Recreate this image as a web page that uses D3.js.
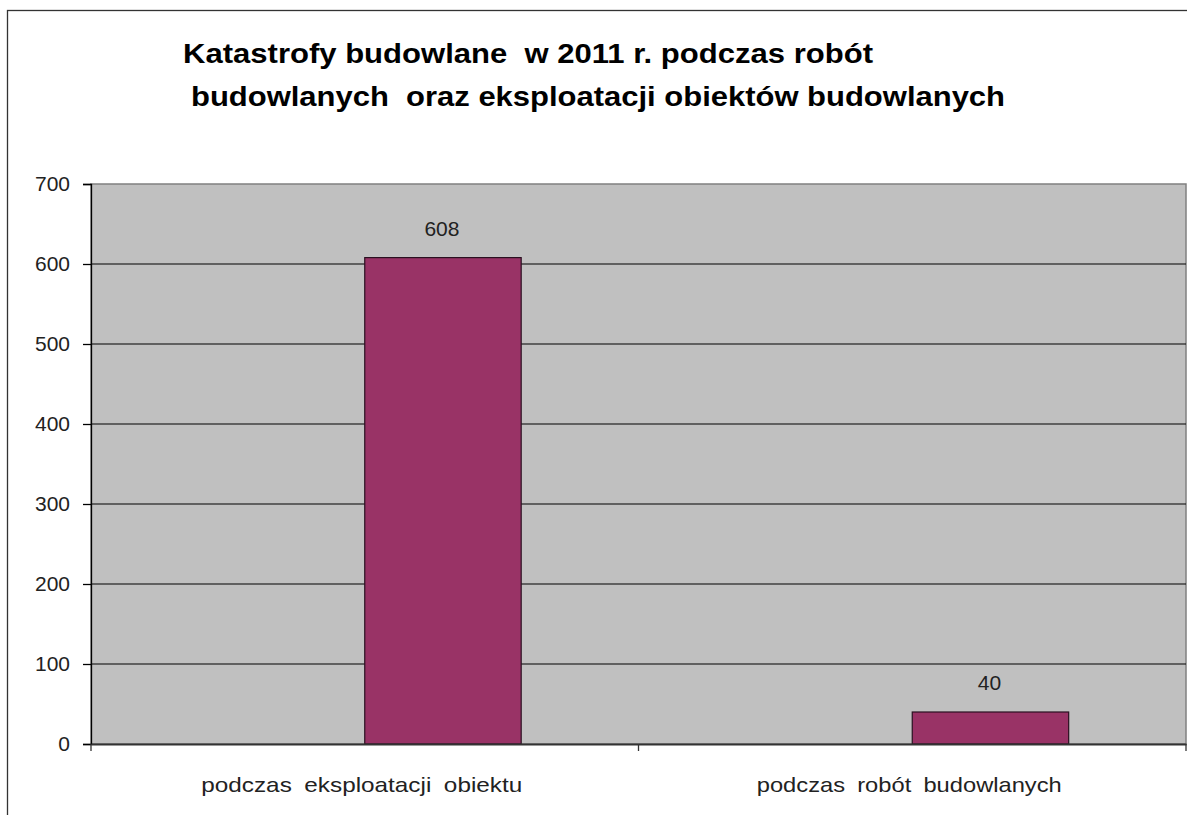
<!DOCTYPE html>
<html>
<head>
<meta charset="utf-8">
<script src="https://cdn.jsdelivr.net/npm/d3@7"></script>
<style>
  body { margin: 0; background: #fff; }
  text { font-family: "Liberation Sans", Arial, sans-serif; }
</style>
</head>
<body>
<svg width="1187" height="815"></svg>
<script>
// chart data
const categories = ["podczas eksploatacji obiektu", "podczas robót budowlanych"];
const values = [608, 40];
const yTicks = [0, 100, 200, 300, 400, 500, 600, 700];
const titleLines = ["Katastrofy budowlane  w 2011 r. podczas robót", "budowlanych  oraz eksploatacji obiektów budowlanych"];

const svg = d3.select("svg");
const margin = {top: 184, right: 1, bottom: 70, left: 91};
const W = 1187, H = 815;

// outer chart border
svg.append("rect")
   .attr("x", 7.5).attr("y", 10.5)
   .attr("width", 1200).attr("height", 900)
   .attr("fill", "#fff")
   .attr("stroke", "#333").attr("stroke-width", 1.3);

// title (the original is a little stretched horizontally)
const titleX = [183, 191], titleLen = [690, 814];
svg.selectAll(".title")
   .data(titleLines)
   .enter()
   .append("text")
   .attr("class", "title")
   .attr("x", (d, i) => titleX[i])
   .attr("y", (d, i) => 63 + i * 43)
   .attr("font-size", 27)
   .attr("font-weight", "bold")
   .attr("fill", "#000")
   .attr("textLength", (d, i) => titleLen[i])
   .attr("lengthAdjust", "spacingAndGlyphs")
   .style("white-space", "pre")
   .text(d => d);

const x0 = d3.scaleBand()
             .domain(categories)
             .range([margin.left, W - margin.right])
             .padding(0);

// two series slots per category (first slot empty), 150% gap
const x1 = d3.scaleBand()
             .domain(["empty", "value"])
             .range([0, x0.bandwidth()])
             .paddingInner(0)
             .paddingOuter(0.75);

const y = d3.scaleLinear()
            .domain([0, 700])
            .range([H - margin.bottom - 1, margin.top]);

// plot area
svg.append("rect")
   .attr("x", margin.left).attr("y", y(700))
   .attr("width", W - margin.right - margin.left)
   .attr("height", y(0) - y(700))
   .attr("fill", "#c0c0c0")
   .attr("stroke", "#808080").attr("stroke-width", 1.5);

// gridlines
svg.selectAll(".grid")
   .data(yTicks.filter(t => t > 0 && t < 700))
   .enter()
   .append("line")
   .attr("x1", margin.left).attr("x2", W - margin.right)
   .attr("y1", d => y(d)).attr("y2", d => y(d))
   .attr("stroke", "#000").attr("stroke-width", 1.2);

// bars
svg.selectAll(".bar")
   .data(values)
   .enter()
   .append("rect")
   .attr("class", "bar")
   .attr("x", (d, i) => x0(categories[i]) + x1("value"))
   .attr("y", d => y(d))
   .attr("width", x1.bandwidth())
   .attr("height", d => y(0) - y(d))
   .attr("fill", "#993366")
   .attr("stroke", "#2a1020").attr("stroke-width", 1.2);

// value labels
svg.selectAll(".vlabel")
   .data(values)
   .enter()
   .append("text")
   .attr("x", (d, i) => x0(categories[i]) + x1("value") + x1.bandwidth() / 2 - 1)
   .attr("y", d => y(d) - 22)
   .attr("text-anchor", "middle")
   .attr("font-size", 21)
   .attr("fill", "#222")
   .text(d => d);

// y axis
const yAxis = d3.axisLeft(y)
                .tickValues(yTicks)
                .tickSize(8)
                .tickPadding(13);
const gy = svg.append("g")
              .attr("transform", `translate(${margin.left},0)`)
              .call(yAxis);
gy.select(".domain").attr("stroke", "#000").attr("stroke-width", 1.3);
gy.selectAll(".tick line").attr("stroke", "#000").attr("stroke-width", 1.3);
gy.selectAll(".tick text")
  .attr("font-size", 21)
  .attr("font-family", "Liberation Sans, Arial, sans-serif")
  .attr("fill", "#222");

// x axis
const labelLen = [321, 305];
const xAxis = d3.axisBottom(x0).tickSize(0).tickPadding(26);
const gx = svg.append("g")
              .attr("transform", `translate(0,${y(0)})`)
              .call(xAxis);
gx.select(".domain").attr("stroke", "#333").attr("stroke-width", 2);
gx.selectAll(".tick text")
  .attr("font-size", 21)
  .attr("font-family", "Liberation Sans, Arial, sans-serif")
  .attr("fill", "#222")
  .attr("dy", "1.05em")
  .style("word-spacing", "5px")
  .attr("textLength", (d, i) => labelLen[i])
  .attr("lengthAdjust", "spacingAndGlyphs");
gx.selectAll(".tick").attr("transform", d => `translate(${x0(d) + x0.bandwidth() / 2 - 3},0)`);

// category boundary ticks
const bounds = categories.map(c => x0(c)).concat([x0(categories[1]) + x0.bandwidth()]);
gx.selectAll(".btick")
  .data(bounds)
  .enter()
  .append("line")
  .attr("x1", d => d).attr("x2", d => d)
  .attr("y1", 0).attr("y2", 7)
  .attr("stroke", "#333").attr("stroke-width", 1.3);
</script>
</body>
</html>
